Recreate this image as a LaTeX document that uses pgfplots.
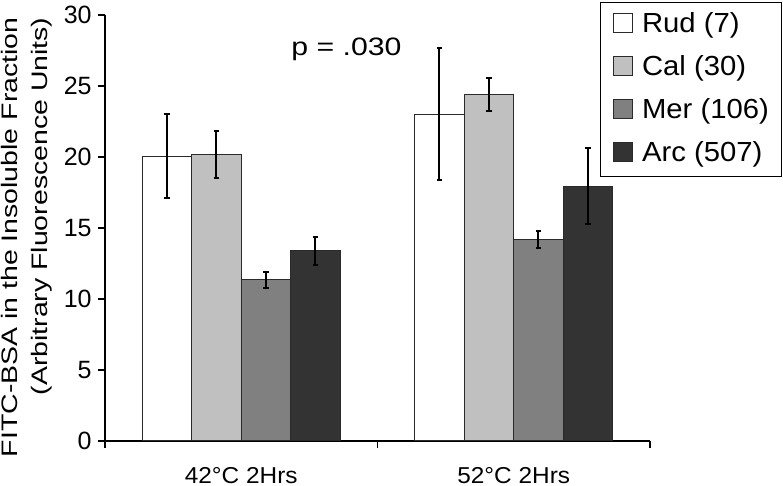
\documentclass[border=0pt]{standalone}
\usepackage{fontspec}
\setmainfont{Liberation Sans}
\newfontfamily\ylabfont[FakeStretch=1.27]{Liberation Sans}
\newfontfamily\pfont[FakeStretch=1.2]{Liberation Sans}
\newfontfamily\stfont[FakeStretch=1.06]{Liberation Sans}
\usepackage{pgfplots}
\pgfplotsset{compat=1.18}
\definecolor{rudc}{HTML}{FFFFFF}
\definecolor{calc}{HTML}{C0C0C0}
\definecolor{merc}{HTML}{808080}
\definecolor{arcc}{HTML}{333333}
\definecolor{edgec}{HTML}{2A2A2A}
\begin{document}
\begin{tikzpicture}
\path[use as bounding box] (-52.5pt,-22.5pt) rectangle (339pt,220.5pt);
\begin{axis}[
  at={(0pt,0pt)}, anchor=south west,
  scale only axis, width=272.5pt, height=213pt,
  xmin=-0.5, xmax=1.5, ymin=0, ymax=30,
  ybar=0pt, bar width=24.75pt,
  axis lines=left, axis line style={-, line width=0.6pt, black},
  tick align=outside, major tick length=3.5pt,
  tick style={black, line width=0.6pt},
  xtick={-0.5,0.5,1.5}, xticklabels={},
  extra x ticks={0,1},
  extra x tick labels={42°C 2Hrs, 52°C 2Hrs},
  extra x tick style={major tick length=0pt, tick label style={anchor=base, yshift=-21.5pt, inner sep=0pt, font=\stfont\fontsize{11.5}{14}\selectfont}},
  ytick={0,5,...,30},
  yticklabel style={inner sep=0pt, xshift=-3pt, font=\fontsize{12.5}{15}\selectfont},
  /pgf/number format/assume math mode=true,
  ylabel={\begin{tabular}{@{}r@{}}FITC-BSA in the Insoluble Fraction\\(Arbitrary Fluorescence Units)\end{tabular}},
  ylabel style={font=\ylabfont\fontsize{11.2}{15}\selectfont, inner sep=0pt,
    at={(axis description cs:-0.0881,0.995)}, anchor=south east},
  error bars/y dir=both, error bars/y explicit,
  error bars/error bar style={line width=1pt, black},
  error bars/error mark options={rotate=90, mark size=1.3pt, line width=1pt, black},
  every axis plot/.append style={draw=edgec, line width=0.5pt},
  legend style={at={(1.2422,1.0305)}, anchor=north east, draw=black, line width=0.5pt,
    inner xsep=6.3pt, inner ysep=4pt, row sep=7pt,
    nodes={inner sep=0pt, text height=11pt, text depth=3.5pt, font=\stfont\fontsize{13.8}{16}\selectfont}},
  legend cell align=left,
  /tikz/every odd column/.append style={column sep=4.5pt},
  legend image code/.code={\draw[#1, line width=0.5pt] (0pt,-3.75pt) rectangle (9.5pt,5.55pt);},
]
\addplot[fill=rudc] coordinates {(0,20.05) +- (0,2.95) (1,23.0) +- (0,4.65)};
\addplot[fill=calc] coordinates {(0,20.2) +- (0,1.65) (1,24.4) +- (0,1.18)};
\addplot[fill=merc] coordinates {(0,11.35) +- (0,0.55) (1,14.2) +- (0,0.6)};
\addplot[fill=arcc] coordinates {(0,13.4) +- (0,1.0) (1,17.95) +- (0,2.65)};
\legend{Rud (7), Cal (30), Mer (106), Arc (507)}
\node[font=\pfont\fontsize{12.6}{15}\selectfont, anchor=base, inner sep=0pt] at (axis cs:0.386,27.18) {p = .030};
\end{axis}
\end{tikzpicture}
\end{document}
